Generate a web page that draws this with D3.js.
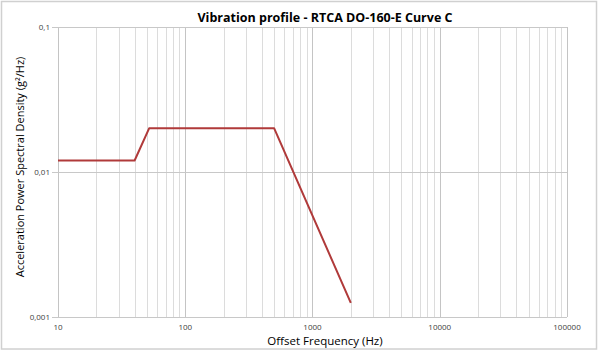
<!DOCTYPE html>
<html>
<head>
<meta charset="utf-8">
<script src="https://cdn.jsdelivr.net/npm/d3@7"></script>
<style>
  body { margin: 0; background: #fff; }
  svg { display: block; font-family: "Open Sans", "Noto Sans", sans-serif; }
</style>
</head>
<body>
<div id="chart"></div>
<script>
// Curve C breakpoints (Hz, g^2/Hz)
var freqs = [10, 40, 52, 500, 2000];
var psd = [0.012, 0.012, 0.02, 0.02, 0.00125];
var xTicks = [10, 100, 1000, 10000, 100000];
var yTicks = [0.001, 0.01, 0.1];
var yTickLabels = ["0,001", "0,01", "0,1"];

var W = 600, H = 352;
var margin = {top: 27, right: 33, bottom: 35, left: 58};

var svg = d3.select("#chart").append("svg")
    .attr("width", W)
    .attr("height", H);

// outer chart border
svg.append("rect")
    .attr("x", 1.5).attr("y", 1.5)
    .attr("width", W - 5).attr("height", H - 4.5)
    .attr("fill", "#fff")
    .attr("stroke", "#d0d0d0")
    .attr("stroke-width", 1.5);

var x = d3.scaleLog().domain([10, 100000]).range([margin.left, W - margin.right]);
var y = d3.scaleLog().domain([0.001, 0.1]).range([H - margin.bottom, margin.top]);

// minor + major vertical grid
var minor = [];
for (var d = 10; d < 100000; d *= 10) {
    for (var k = 2; k <= 9; k++) minor.push(d * k);
}
svg.append("g").selectAll("line").data(minor).join("line")
    .attr("x1", function(v) { return Math.round(x(v)) + 0.5; })
    .attr("x2", function(v) { return Math.round(x(v)) + 0.5; })
    .attr("y1", y(0.1)).attr("y2", y(0.001))
    .attr("stroke", "#dcdcdc").attr("stroke-width", 1);

svg.append("g").selectAll("line").data(xTicks).join("line")
    .attr("x1", function(v) { return Math.round(x(v)) + 0.5; })
    .attr("x2", function(v) { return Math.round(x(v)) + 0.5; })
    .attr("y1", y(0.1)).attr("y2", y(0.001))
    .attr("stroke", "#c4c4c4").attr("stroke-width", 1);

// horizontal grid
svg.append("g").selectAll("line").data(yTicks).join("line")
    .attr("x1", x(10) - 6).attr("x2", x(100000))
    .attr("y1", function(v) { return Math.round(y(v)) + 0.5; })
    .attr("y2", function(v) { return Math.round(y(v)) + 0.5; })
    .attr("stroke", "#c8c8c8").attr("stroke-width", 1);

// tick labels
svg.append("g").selectAll("text").data(yTicks).join("text")
    .attr("x", x(10) - 8)
    .attr("y", function(v) { return y(v) + 3; })
    .attr("text-anchor", "end")
    .attr("font-size", 8)
    .attr("fill", "#404040")
    .text(function(v, i) { return yTickLabels[i]; });

svg.append("g").selectAll("text").data(xTicks).join("text")
    .attr("x", function(v) { return x(v); })
    .attr("y", y(0.001) + 13)
    .attr("text-anchor", "middle")
    .attr("font-size", 8)
    .attr("fill", "#404040")
    .text(function(v) { return v; });

// series
var line = d3.line()
    .x(function(d) { return x(d[0]); })
    .y(function(d) { return y(d[1]); });

svg.append("path")
    .datum(d3.zip(freqs, psd))
    .attr("d", line)
    .attr("fill", "none")
    .attr("stroke", "#b03a3a")
    .attr("stroke-width", 2)
    .attr("stroke-linejoin", "round");

// titles
svg.append("text")
    .attr("x", 325).attr("y", 22)
    .attr("text-anchor", "middle")
    .attr("font-size", 12.5)
    .attr("font-weight", "bold")
    .attr("fill", "#000")
    .text("Vibration profile - RTCA DO-160-E Curve C");

svg.append("text")
    .attr("x", 325).attr("y", 345)
    .attr("text-anchor", "middle")
    .attr("font-size", 11.5)
    .attr("fill", "#000")
    .text("Offset Frequency (Hz)");

svg.append("text")
    .attr("transform", "translate(24,167) rotate(-90)")
    .attr("text-anchor", "middle")
    .attr("font-size", 11)
    .attr("fill", "#000")
    .text("Acceleration Power Spectral Density (g²/Hz)");
</script>
</body>
</html>
